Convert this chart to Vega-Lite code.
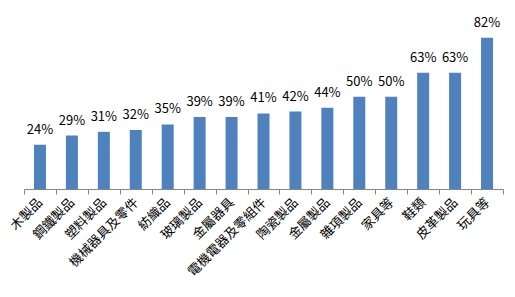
{
  "$schema": "https://vega.github.io/schema/vega-lite/v6.json",
  "autosize": "none",
  "width": 479,
  "height": 166,
  "padding": {"left": 24, "top": 23, "right": 12, "bottom": 108},
  "background": "white",
  "config": {"view": {"stroke": null}, "font": "Noto Sans CJK TC"},
  "data": {"values": [
    {"cat": "木製品", "v": 0.24},
    {"cat": "鋼鐵製品", "v": 0.29},
    {"cat": "塑料製品", "v": 0.31},
    {"cat": "機械器具及零件", "v": 0.32},
    {"cat": "紡織品", "v": 0.35},
    {"cat": "玻璃製品", "v": 0.39},
    {"cat": "金屬器具", "v": 0.39},
    {"cat": "電機電器及零組件", "v": 0.41},
    {"cat": "陶瓷製品", "v": 0.42},
    {"cat": "金屬製品", "v": 0.44},
    {"cat": "雜項製品", "v": 0.50},
    {"cat": "家具等", "v": 0.50},
    {"cat": "鞋類", "v": 0.63},
    {"cat": "皮革製品", "v": 0.63},
    {"cat": "玩具等", "v": 0.82}
  ]},
  "encoding": {
    "x": {"field": "cat", "type": "nominal", "sort": null,
      "scale": {"paddingInner": 0, "paddingOuter": 0},
      "axis": {"title": null, "labelAngle": -45, "labelAlign": "right", "labelBaseline": "middle",
        "labelFontSize": 13, "labelColor": "#000000", "labelPadding": 6,
        "tickBand": "extent", "tickSize": 5, "tickColor": "#868686", "domainColor": "#868686",
        "labelFont": "Noto Sans CJK TC"}},
    "y": {"field": "v", "type": "quantitative", "scale": {"domain": [0, 0.9]}, "axis": null}
  },
  "layer": [
    {"mark": {"type": "bar", "color": "#4F81BD", "size": 12}},
    {"mark": {"type": "text", "dy": -15, "fontSize": 13, "color": "#000000", "font": "Noto Sans CJK TC"},
     "encoding": {"text": {"field": "v", "type": "quantitative", "format": ".0%"}}}
  ]
}
